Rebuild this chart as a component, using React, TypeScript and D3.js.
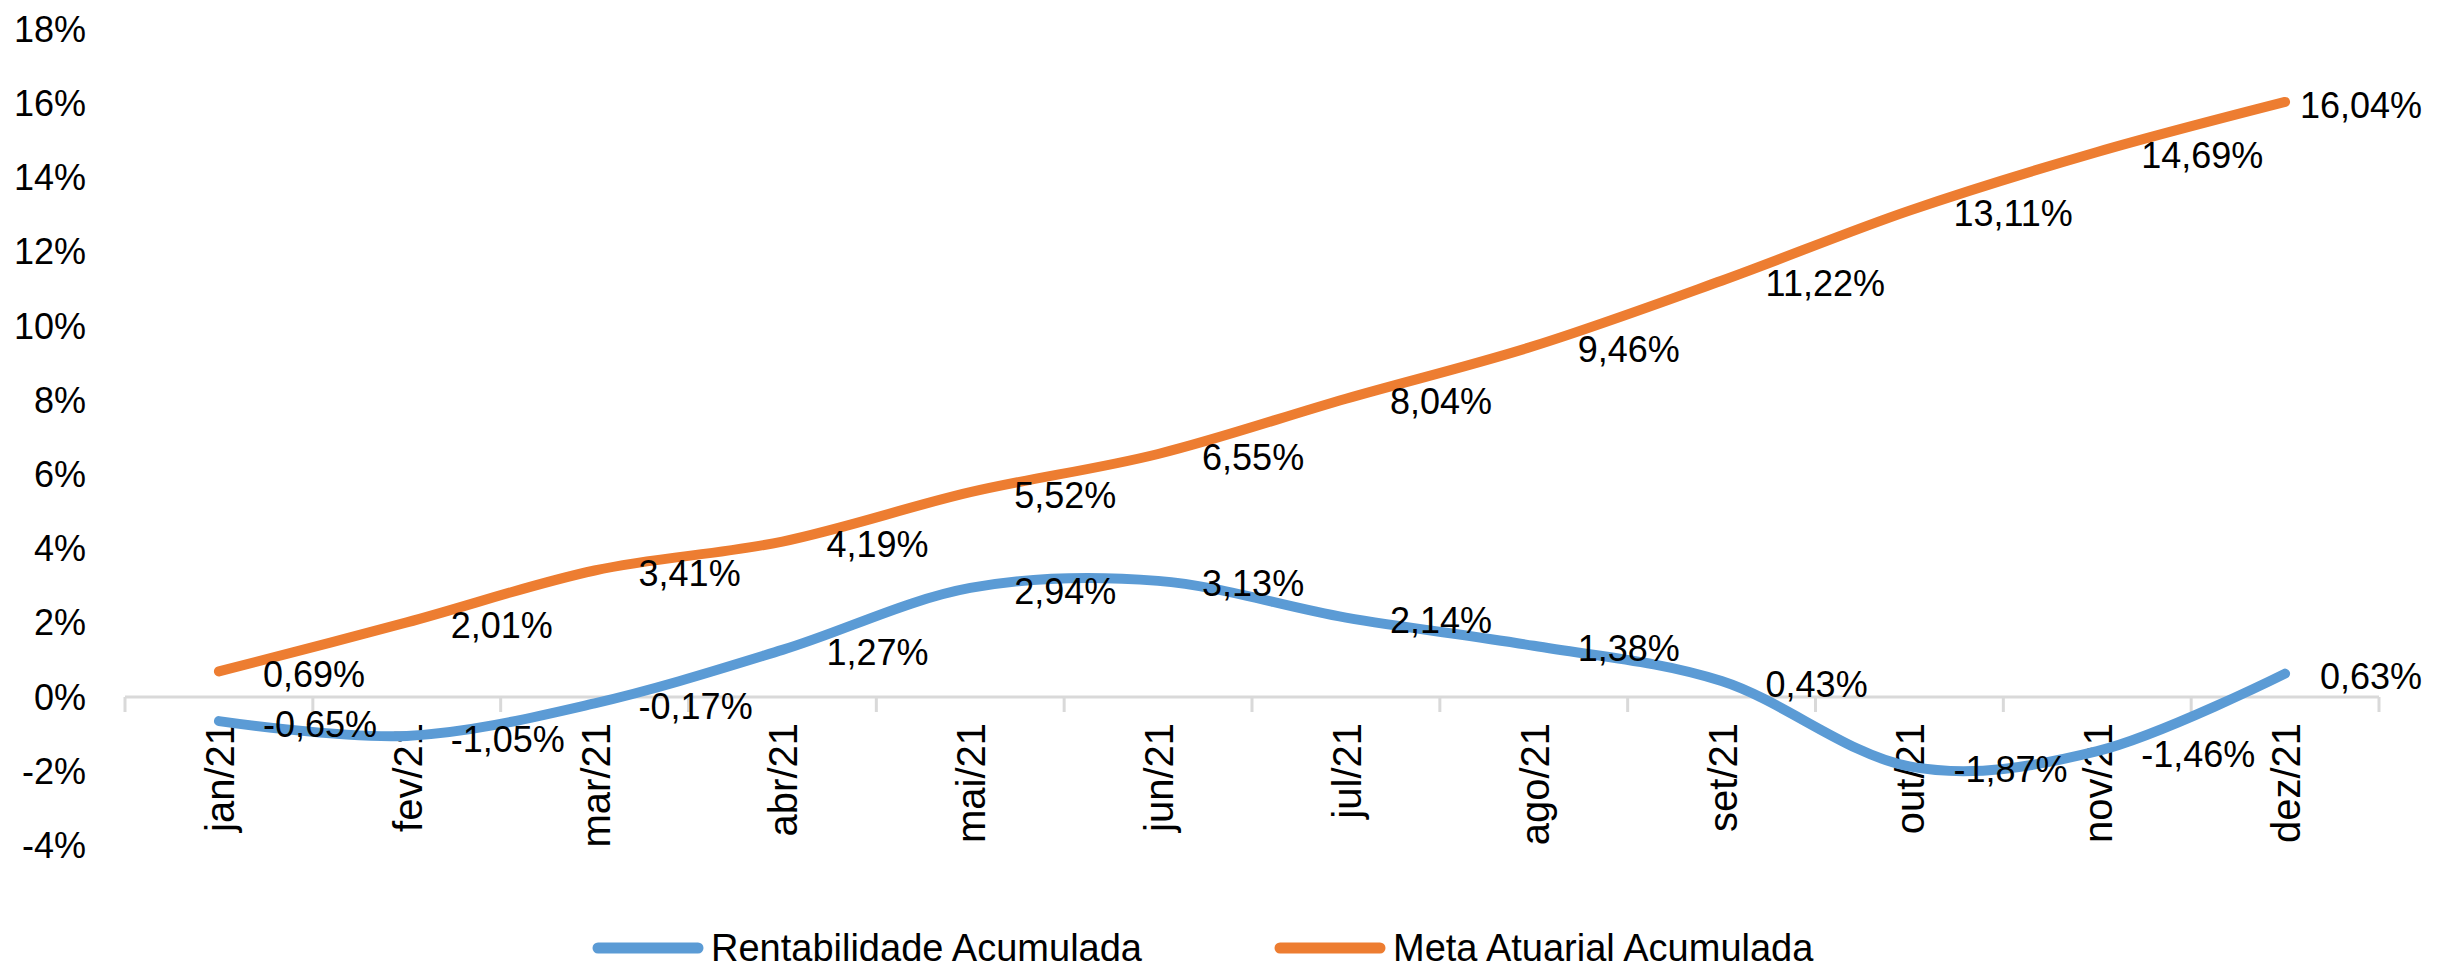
import * as d3 from "d3";
import { useEffect, useRef } from "react";

const MONTHS = ["jan/21", "fev/21", "mar/21", "abr/21", "mai/21", "jun/21", "jul/21", "ago/21", "set/21", "out/21", "nov/21", "dez/21"];
const RENTABILIDADE = [-0.65, -1.05, -0.17, 1.27, 2.94, 3.13, 2.14, 1.38, 0.43, -1.87, -1.46, 0.63];
const META = [0.69, 2.01, 3.41, 4.19, 5.52, 6.55, 8.04, 9.46, 11.22, 13.11, 14.69, 16.04];
const Y_TICKS = [-4, -2, 0, 2, 4, 6, 8, 10, 12, 14, 16, 18];

const SERIES = [
  { name: "Rentabilidade Acumulada", values: RENTABILIDADE, color: "#5B9BD5" },
  { name: "Meta Atuarial Acumulada", values: META, color: "#ED7D31" },
];

const WIDTH = 2454;
const HEIGHT = 971;
const FONT = "'Liberation Sans', Arial, sans-serif";

const fmt = (v: number) => v.toFixed(2).replace(".", ",") + "%";

export default function App() {
  const svgRef = useRef<SVGSVGElement | null>(null);

  useEffect(() => {
    if (!svgRef.current) return;
    const svg = d3.select(svgRef.current);
    svg.selectAll("*").remove();

    const x = d3.scaleBand<string>().domain(MONTHS).range([125, 2379]);
    const y = d3.scaleLinear().domain([-4, 18]).range([845.4, 29.2]);
    const cx = (m: string) => (x(m) as number) + x.bandwidth() / 2;

    // y tick labels (no axis line, no grid)
    svg
      .append("g")
      .selectAll("text")
      .data(Y_TICKS)
      .join("text")
      .attr("x", 86)
      .attr("y", (d) => y(d))
      .attr("dy", "0.35em")
      .attr("text-anchor", "end")
      .attr("font-size", 36)
      .attr("fill", "#000")
      .text((d) => `${d}%`);

    // category axis at 0%
    const axis = svg.append("g").attr("stroke", "#D9D9D9").attr("stroke-width", 3);
    axis
      .append("line")
      .attr("x1", x.range()[0])
      .attr("x2", x.range()[1])
      .attr("y1", y(0))
      .attr("y2", y(0));
    const bounds = MONTHS.map((m) => x(m) as number).concat([x.range()[1]]);
    axis
      .selectAll("line.tick")
      .data(bounds)
      .join("line")
      .attr("class", "tick")
      .attr("x1", (d) => d)
      .attr("x2", (d) => d)
      .attr("y1", y(0))
      .attr("y2", y(0) + 15);

    // rotated month labels
    svg
      .append("g")
      .selectAll("text")
      .data(MONTHS)
      .join("text")
      .attr("transform", (d) => `translate(${cx(d) + 1},${y(0) + 26}) rotate(-90)`)
      .attr("dy", "0.35em")
      .attr("text-anchor", "end")
      .attr("font-size", 40)
      .attr("fill", "#000")
      .text((d) => d);

    const line = d3
      .line<number>()
      .x((_, i) => cx(MONTHS[i]))
      .y((d) => y(d))
      .curve(d3.curveCatmullRom.alpha(0));

    SERIES.forEach((s) => {
      svg
        .append("path")
        .datum(s.values)
        .attr("d", line)
        .attr("fill", "none")
        .attr("stroke", s.color)
        .attr("stroke-width", 10)
        .attr("stroke-linecap", "round")
        .attr("stroke-linejoin", "round");
    });

    // data labels to the right of each point, kept inside the chart area
    SERIES.forEach((s) => {
      const labels = svg
        .append("g")
        .selectAll("text")
        .data(s.values)
        .join("text")
        .attr("y", (d) => y(d) + 3)
        .attr("dy", "0.35em")
        .attr("font-size", 36)
        .attr("fill", "#000")
        .text((d) => fmt(d));
      labels.attr("x", function (d, i) {
        const w = (this as SVGTextElement).getComputedTextLength();
        return Math.min(cx(MONTHS[i]) + 44, 2422 - w);
      });
    });

    // legend
    const legendX = [593, 1275];
    const legend = svg
      .append("g")
      .selectAll("g")
      .data(SERIES)
      .join("g")
      .attr("transform", (_, i) => `translate(${legendX[i]},948)`);
    legend
      .append("line")
      .attr("x1", 5)
      .attr("x2", 105)
      .attr("stroke", (d) => d.color)
      .attr("stroke-width", 11)
      .attr("stroke-linecap", "round");
    legend
      .append("text")
      .attr("x", 118)
      .attr("dy", "0.35em")
      .attr("font-size", 38)
      .attr("fill", "#000")
      .text((d) => d.name);
  }, []);

  return (
    <svg
      ref={svgRef}
      width={WIDTH}
      height={HEIGHT}
      style={{ position: "absolute", left: 0, top: 0, background: "#fff", fontFamily: FONT }}
    />
  );
}
